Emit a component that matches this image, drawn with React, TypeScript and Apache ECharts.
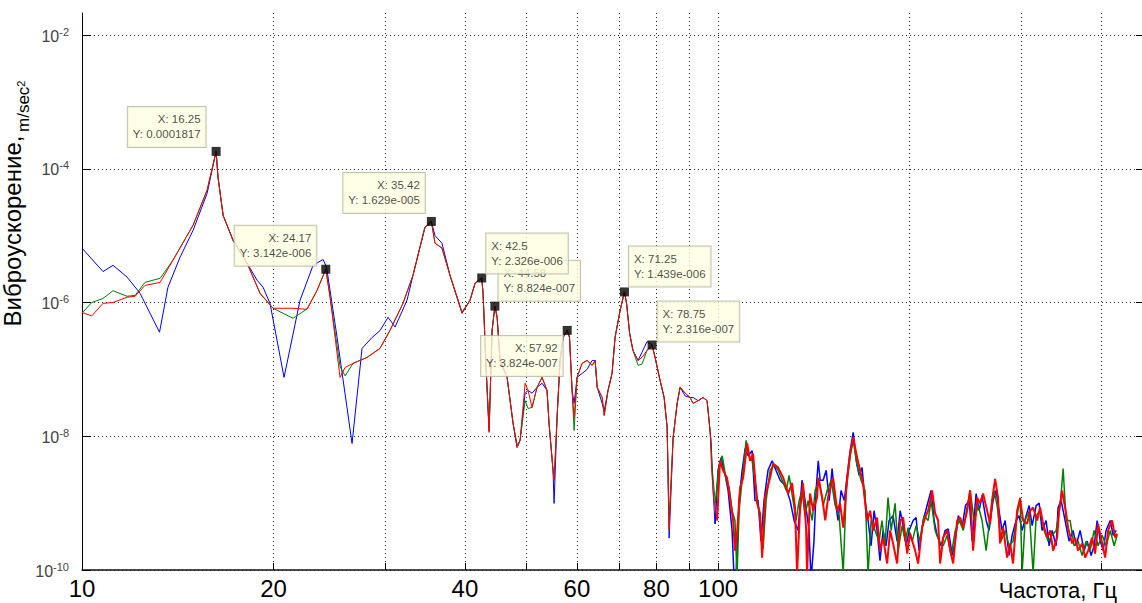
import React, { useEffect, useRef } from "react";
import * as echarts from "echarts";

// ---- axes ----
const X_MIN_HZ = 10;
const X_MAX_HZ = 469;
const Y_MIN = 1e-10;
const Y_MAX = 0.02133;
const xTickHz = [10, 20, 30, 40, 50, 60, 70, 80, 90, 100, 200, 300, 400];
const xLabelHz = [10, 20, 40, 60, 80, 100];
const yTickExp = [-10, -8, -6, -4, -2];

// ---- series data: [frequency Hz, acceleration m/sec^2] ----
const blueLow = [
  [10.0, 6.5e-6], [10.79, 2.9e-6], [11.19, 3.6e-6], [11.77, 2.4e-6], [12.34, 1.37e-6], [13.24, 3.6e-7],
  [13.65, 1.69e-6], [14.26, 4.75e-6], [14.95, 1.2e-5], [15.73, 4.3e-5], [16.25, 1.817e-4], [16.36, 7.5e-5],
  [16.67, 2.0e-5], [17.28, 8.5e-6], [18.17, 3.9e-6], [18.85, 2.15e-6], [19.26, 1.69e-6], [19.75, 9.7e-7],
  [20.78, 7.6e-8], [22.02, 1.08e-6], [23.08, 3.6e-6], [23.93, 4.4e-6], [24.17, 3.6e-6], [24.28, 3.0e-6],
  [25.18, 3.0e-7], [26.58, 7.8e-9], [27.56, 2.06e-7], [28.58, 3.0e-7], [29.41, 3.8e-7], [30.28, 6.0e-7],
  [31.06, 4.3e-7], [32.43, 1.08e-6], [33.14, 2.55e-6], [34.61, 1.34e-5], [35.42, 1.629e-5], [35.89, 1.0e-5],
  [36.81, 7.7e-6],
];
const greenLow = [
  [10.0, 6.9e-7], [10.36, 1.0e-6], [10.79, 1.15e-6], [11.19, 1.5e-6], [11.77, 1.24e-6], [12.12, 1.28e-6],
  [12.56, 2.0e-6], [13.27, 2.3e-6], [13.9, 4.3e-6], [14.95, 1.43e-5], [15.73, 4.8e-5], [16.25, 1.817e-4],
  [16.36, 7.5e-5], [16.67, 2.0e-5], [17.28, 8.5e-6], [18.17, 3.9e-6], [19.05, 1.37e-6], [19.97, 8.2e-7],
  [21.47, 5.8e-7], [22.58, 8.0e-7], [23.42, 1.52e-6], [24.17, 3.142e-6], [24.55, 1.2e-6], [25.45, 1.1e-7],
  [25.92, 8.0e-8], [26.68, 1.23e-7], [28.06, 1.51e-7], [29.41, 2.06e-7], [30.5, 3.84e-7], [31.96, 9.7e-7],
  [33.14, 2.55e-6], [34.61, 1.34e-5], [35.42, 1.629e-5], [35.89, 7.7e-6], [36.81, 6.5e-6],
];
const redLow = [
  [10.0, 7.1e-7], [10.36, 6.3e-7], [10.79, 9.7e-7], [11.19, 1.0e-6], [11.77, 1.2e-6], [12.12, 1.24e-6],
  [12.56, 1.8e-6], [13.27, 2.0e-6], [13.9, 4.3e-6], [14.95, 1.43e-5], [15.73, 4.8e-5], [16.25, 1.817e-4],
  [16.36, 7.5e-5], [16.67, 2.0e-5], [17.28, 8.5e-6], [18.17, 3.9e-6], [19.05, 1.37e-6], [19.97, 8.2e-7],
  [21.47, 8.2e-7], [22.58, 7.9e-7], [23.42, 1.52e-6], [24.17, 3.142e-6], [24.55, 1.2e-6], [25.45, 7.6e-8],
  [25.92, 1.07e-7], [26.68, 1.23e-7], [28.06, 1.51e-7], [29.41, 2.06e-7], [30.5, 3.84e-7], [31.96, 9.7e-7],
  [33.14, 2.55e-6], [34.61, 1.34e-5], [35.42, 1.629e-5], [35.89, 7.7e-6], [36.81, 6.5e-6],
];

const blueMid = [
  [37.89, 2.55e-6], [39.58, 6.9e-7], [40.74, 1.08e-6], [41.49, 1.94e-6], [42.5, 2.326e-6], [42.71, 1.37e-6],
  [43.18, 1.07e-7], [43.65, 1.2e-8], [44.13, 3.84e-7], [44.58, 8.824e-7], [44.94, 6.0e-7], [45.42, 1.36e-7],
  [46.59, 7.6e-8], [47.61, 1.56e-8], [48.31, 6.8e-9], [48.84, 8.7e-9], [49.73, 4.4e-8], [50.27, 4.85e-8],
  [51.0, 4.4e-8], [51.93, 5.4e-8], [52.88, 6.2e-8], [53.84, 4.85e-8], [54.23, 1.56e-8], [55.02, 3.1e-9],
  [55.23, 9.9e-10], [55.83, 1.91e-8], [56.44, 1.36e-7], [57.06, 3.0e-7], [57.92, 3.824e-7], [58.4, 3.0e-7],
  [58.95, 4.85e-8], [59.38, 3.1e-8], [60.03, 7.6e-8], [61.13, 8.7e-8], [62.23, 1.0e-7], [63.39, 1.36e-7],
  [64.08, 1.36e-7], [64.55, 5.4e-8], [65.73, 3.1e-8], [66.22, 2.4e-8], [67.14, 4.85e-8], [68.13, 8.7e-8],
  [68.87, 3.0e-7], [70.14, 7.6e-7], [71.25, 1.439e-6], [71.8, 9.7e-7], [72.6, 3.46e-7], [73.48, 1.92e-7],
  [74.85, 1.36e-7], [75.93, 1.8e-7], [77.32, 2.6e-7], [78.75, 2.316e-7], [79.61, 1.51e-7], [81.07, 6.8e-8],
  [82.26, 3.8e-8], [83.16, 1.36e-8], [83.76, 3e-10], [84.99, 9.6e-9], [86.23, 3.1e-8], [87.17, 5.4e-8],
  [88.77, 4.0e-8], [90.36, 3.8e-8], [91.35, 3.8e-8], [93.02, 3.4e-8], [94.71, 3.8e-8], [96.1, 3.4e-8],
  [97.14, 1.2e-8], [97.5, 8.7e-9], [98.2, 1.55e-9], [98.9, 4.9e-10],
];
const greenMid = [
  [37.89, 2.55e-6], [39.58, 7.2e-7], [40.74, 1.08e-6], [41.49, 1.94e-6], [42.5, 2.326e-6], [42.71, 1.37e-6],
  [43.18, 1.07e-7], [43.65, 1.3e-8], [44.13, 3.84e-7], [44.58, 8.824e-7], [44.94, 6.0e-7], [45.42, 1.36e-7],
  [46.59, 7.6e-8], [47.61, 1.56e-8], [48.31, 7.5e-9], [48.84, 8.7e-9], [49.73, 3.4e-8], [50.27, 2.6e-8],
  [51.0, 2.7e-8], [51.93, 5.4e-8], [52.88, 7.6e-8], [53.84, 4.85e-8], [54.23, 1.56e-8], [55.02, 3.1e-9],
  [55.23, 2.2e-9], [55.83, 1.91e-8], [56.44, 1.36e-7], [57.06, 3.0e-7], [57.92, 3.824e-7], [58.4, 3.0e-7],
  [58.95, 4.85e-8], [59.38, 1.22e-8], [60.03, 7.6e-8], [61.13, 1.23e-7], [62.23, 1.36e-7], [63.39, 1.15e-7],
  [64.08, 1.36e-7], [64.55, 5.4e-8], [65.73, 3.8e-8], [66.22, 2.05e-8], [67.14, 4.85e-8], [68.13, 8.7e-8],
  [68.87, 3.0e-7], [70.14, 7.6e-7], [71.25, 1.439e-6], [71.8, 9.7e-7], [72.6, 3.46e-7], [73.48, 1.92e-7],
  [74.85, 1.15e-7], [75.93, 1.2e-7], [77.32, 1.92e-7], [78.75, 2.316e-7], [79.61, 1.51e-7], [81.07, 6.8e-8],
  [82.26, 3.8e-8], [83.16, 1.36e-8], [83.76, 6e-10], [84.99, 9.6e-9], [86.23, 3.1e-8], [87.17, 5.4e-8],
  [88.77, 4.4e-8], [90.36, 3.8e-8], [91.35, 3.1e-8], [93.02, 3.4e-8], [94.71, 3.8e-8], [96.1, 3.4e-8],
  [97.14, 1.2e-8], [98.0, 3.0e-9], [99.0, 1.0e-9],
];
const redMid = [
  [37.89, 2.55e-6], [39.58, 6.9e-7], [40.74, 1.08e-6], [41.49, 1.94e-6], [42.5, 2.326e-6], [42.71, 1.37e-6],
  [43.18, 1.07e-7], [43.65, 1.14e-8], [44.13, 3.84e-7], [44.58, 8.824e-7], [44.94, 6.0e-7], [45.42, 1.36e-7],
  [46.59, 7.6e-8], [47.61, 1.56e-8], [48.31, 6.8e-9], [48.84, 8.7e-9], [49.73, 6.2e-8], [50.27, 4.85e-8],
  [51.0, 2.7e-8], [51.93, 5.4e-8], [52.88, 7.6e-8], [53.84, 4.85e-8], [54.23, 1.56e-8], [55.02, 3.1e-9],
  [55.23, 2.2e-9], [55.83, 1.91e-8], [56.44, 1.36e-7], [57.06, 3.0e-7], [57.92, 3.824e-7], [58.4, 3.0e-7],
  [58.95, 4.85e-8], [59.38, 1.91e-8], [60.03, 7.6e-8], [61.13, 1.23e-7], [62.23, 1.36e-7], [63.39, 1.15e-7],
  [64.08, 1.36e-7], [64.55, 5.4e-8], [65.73, 3.8e-8], [66.22, 2.05e-8], [67.14, 4.85e-8], [68.13, 8.7e-8],
  [68.87, 3.0e-7], [70.14, 7.6e-7], [71.25, 1.439e-6], [71.8, 9.7e-7], [72.6, 3.46e-7], [73.48, 1.92e-7],
  [74.85, 1.36e-7], [75.93, 1.51e-7], [77.32, 1.92e-7], [78.75, 2.316e-7], [79.61, 1.51e-7], [81.07, 6.8e-8],
  [82.26, 3.8e-8], [83.16, 1.36e-8], [83.76, 4e-10], [84.99, 9.6e-9], [86.23, 3.1e-8], [87.17, 5.4e-8],
  [88.77, 4.4e-8], [90.36, 3.8e-8], [91.35, 3.1e-8], [93.02, 3.4e-8], [94.71, 3.8e-8], [96.1, 3.4e-8],
  [97.14, 1.2e-8], [97.7, 3.1e-9], [98.4, 1.21e-9], [99.64, 5.5e-10],
];

const blueHigh = [
  [100.0, 3.1e-9], [101.1, 4.8e-9], [102.6, 2.6e-9], [103.7, 1.55e-9], [105.2, 3.9e-10], [106.0, 7e-11],
  [106.7, 8e-11], [107.9, 1.09e-9], [109.1, 3.1e-9], [110.3, 6.6e-9], [111.5, 5.1e-9], [113.1, 6.1e-9],
  [114.3, 1.09e-9], [115.6, 1.09e-9], [116.8, 2.7e-10], [118.1, 1.09e-9], [119.8, 3.1e-9], [121.6, 4.3e-9],
  [123.3, 3.1e-9], [125.2, 2.2e-9], [127.5, 1.83e-9], [129.8, 1.09e-9], [131.7, 5.5e-10], [133.6, 3.9e-10],
  [135.5, 2.2e-9], [137.0, 1.09e-9], [139.0, 3.9e-10], [140.0, 7e-11], [141.5, 2.7e-10], [142.6, 1.55e-9],
  [143.7, 4.3e-9], [144.7, 2.2e-9], [146.3, 2.2e-9], [147.9, 3.1e-9], [149.5, 1.09e-9], [151.1, 3.3e-9],
  [152.8, 1.09e-9], [154.4, 5.5e-10], [156.1, 1.55e-9], [157.9, 1.09e-9], [159.6, 2.6e-9], [161.3, 6.1e-9],
  [163.1, 1.14e-8], [164.9, 4.3e-9], [166.6, 2.6e-9], [168.4, 3.4e-9], [170.2, 1.09e-9], [172.1, 5.5e-10],
  [174.0, 2.3e-10], [175.9, 7.7e-10], [177.8, 3.9e-10], [179.7, 1.38e-10], [181.7, 3.9e-10], [183.7, 2.3e-10],
  [185.7, 5.5e-10], [188.4, 6.5e-10], [191.2, 2.7e-10], [193.3, 7.7e-10], [195.4, 4.6e-10], [197.6, 2.3e-10],
  [199.7, 3.9e-10], [202.6, 5.5e-10], [204.8, 6.1e-10], [207.0, 1.95e-10], [210.1, 5.5e-10], [213.1, 9.2e-10],
  [216.2, 1.55e-9], [218.6, 5.5e-10], [221.0, 3.3e-10], [224.2, 2.3e-10], [227.5, 3.9e-10], [230.1, 4.1e-10],
  [233.4, 1.65e-10], [236.0, 2.7e-10], [238.6, 6.5e-10], [242.1, 4.6e-10], [244.9, 9.2e-10], [248.2, 1.09e-9],
  [250.9, 2.7e-10], [254.5, 1.39e-9], [257.3, 7.7e-10], [260.0, 1.3e-9], [263.9, 5.5e-10], [266.7, 3.9e-10],
  [270.6, 1.09e-9], [273.6, 1.55e-9], [276.5, 7.7e-10], [279.5, 3.9e-10], [282.7, 5.5e-10], [286.7, 1.65e-10],
  [289.9, 3.3e-10], [294.1, 5.5e-10], [297.3, 6.5e-10], [300.6, 3.9e-10], [305.0, 6.5e-10], [308.4, 9.2e-10],
  [311.7, 4.6e-10], [316.3, 9.2e-10], [319.7, 1.0e-9], [323.1, 3.9e-10], [327.9, 5.5e-10], [331.5, 2.3e-10],
  [335.1, 3.9e-10], [340.0, 2.3e-10], [342.4, 8.6e-10], [346.2, 1.09e-9], [351.2, 5.5e-10], [356.3, 2.7e-10],
  [361.5, 3.9e-10], [365.5, 2.3e-10], [370.8, 3.9e-10], [376.3, 1.95e-10], [380.4, 2.7e-10], [385.9, 1.65e-10],
  [390.1, 2.3e-10], [394.4, 5.5e-10], [398.9, 2.7e-10], [403.1, 1.95e-10], [407.4, 3.9e-10], [413.5, 5.5e-10],
  [418.0, 3.3e-10], [422.6, 3.9e-10],
];
const greenHigh = [
  [100.4, 3.7e-9], [101.5, 5.1e-9], [103.0, 2.2e-9], [104.1, 1.71e-9], [105.2, 7.7e-10], [106.3, 5.5e-10],
  [107.1, 8e-11], [107.9, 7.7e-10], [109.1, 2.2e-9], [110.7, 8.7e-9], [111.9, 5.1e-9], [113.1, 4.3e-9],
  [114.8, 1.55e-9], [116.4, 5.5e-10], [117.7, 2.1e-10], [119.0, 1.09e-9], [120.7, 3.1e-9], [122.5, 3.7e-9],
  [124.3, 3.1e-9], [126.1, 2.2e-9], [128.0, 1.55e-9], [129.3, 2.6e-9], [131.2, 1.09e-9], [132.6, 5.5e-10],
  [134.1, 1.09e-9], [135.5, 1.55e-9], [137.0, 6.5e-10], [138.5, 1.09e-9], [140.6, 5.5e-10], [142.1, 1.55e-9],
  [144.2, 2.2e-9], [146.3, 9.2e-10], [148.4, 1.55e-9], [150.6, 2.2e-9], [152.8, 9.2e-10], [155.0, 6.5e-10],
  [157.3, 9e-11], [159.0, 1.55e-9], [161.3, 5.1e-9], [163.1, 8.7e-9], [165.4, 3.7e-9], [167.8, 2.2e-9],
  [170.2, 1.55e-9], [172.1, 9e-11], [174.0, 5.5e-10], [176.5, 3.9e-10], [179.1, 2.7e-10], [181.0, 5.5e-10],
  [183.0, 2.3e-10], [185.0, 1.21e-9], [187.1, 3.9e-10], [189.8, 9.9e-10], [191.9, 1.95e-10], [194.7, 4.6e-10],
  [196.8, 2.7e-10], [199.0, 4.3e-10], [202.0, 2.7e-10], [204.8, 4.6e-10], [207.7, 2.7e-10], [210.8, 6.5e-10],
  [213.9, 5.5e-10], [216.2, 1.09e-9], [219.4, 3.9e-10], [222.6, 2.7e-10], [225.9, 2.3e-10], [229.2, 3.3e-10],
  [232.5, 1.65e-10], [236.0, 3.9e-10], [239.4, 5.5e-10], [243.0, 3.9e-10], [246.6, 9.2e-10], [249.0, 1.55e-9],
  [252.7, 5.5e-10], [256.4, 9.2e-10], [260.0, 5.5e-10], [263.9, 1.95e-10], [267.7, 6.5e-10], [271.6, 1.55e-9],
  [274.6, 9.2e-10], [278.5, 2.7e-10], [282.7, 3.9e-10], [286.7, 2.3e-10], [290.9, 2.7e-10], [295.2, 6.5e-10],
  [298.4, 1.21e-9], [300.6, 9e-11], [303.9, 5.5e-10], [308.4, 7.7e-10], [312.8, 9e-11], [316.3, 6.5e-10],
  [320.8, 7.7e-10], [325.5, 3.9e-10], [330.3, 2.7e-10], [335.1, 3.3e-10], [340.0, 3.9e-10], [345.0, 9.2e-10],
  [348.7, 3.3e-9], [352.5, 5.5e-10], [357.6, 5.5e-10], [362.8, 2.3e-10], [368.1, 2.7e-10], [373.5, 1.65e-10],
  [379.0, 2.7e-10], [384.5, 1.95e-10], [390.1, 3.9e-10], [395.8, 2.3e-10], [401.6, 3.3e-10], [407.4, 2.3e-10],
  [413.5, 3.9e-10], [419.5, 2.3e-10], [424.0, 3.3e-10],
];
const redHigh = [
  [100.7, 4.3e-9], [101.8, 3.1e-9], [103.3, 2.4e-9], [104.4, 1.21e-9], [105.6, 5.5e-10], [106.3, 1.95e-10],
  [107.1, 3.5e-10], [108.3, 1.71e-9], [109.5, 2.4e-9], [111.1, 7.8e-9], [112.3, 4.3e-9], [113.5, 5.5e-9],
  [115.2, 9.9e-10], [116.4, 7.0e-10], [117.3, 1.53e-10], [118.5, 1.21e-9], [120.7, 2.4e-9], [122.0, 3.9e-9],
  [124.3, 3.4e-9], [126.6, 2.4e-9], [128.9, 1.39e-9], [130.7, 2.0e-9], [132.1, 8.6e-10], [133.1, 9e-11],
  [134.5, 7.7e-10], [136.0, 2.0e-9], [137.5, 4.3e-10], [138.0, 9e-11], [139.5, 1.39e-9], [141.1, 7.7e-10],
  [143.1, 1.21e-9], [143.7, 2.4e-9], [145.8, 1.21e-9], [147.4, 5.5e-10], [148.9, 1.21e-9], [151.6, 2.4e-9],
  [153.9, 7.7e-10], [155.5, 9.9e-10], [157.3, 4.3e-10], [159.6, 2.4e-9], [161.3, 5.5e-9], [163.1, 9.6e-9],
  [165.4, 4.8e-9], [167.2, 3.1e-9], [169.0, 2.0e-9], [171.5, 5.5e-10], [173.4, 7.7e-10], [175.3, 3.9e-10],
  [177.8, 6.1e-10], [179.7, 1.95e-10], [181.7, 3.05e-10], [184.4, 1.25e-10], [186.4, 3.9e-10], [188.4, 2.5e-10],
  [191.2, 1.25e-10], [193.3, 5.5e-10], [195.4, 6.1e-10], [198.3, 1.76e-10], [200.4, 3.5e-10], [204.1, 1.95e-10],
  [206.3, 1.25e-10], [209.3, 4.3e-10], [211.6, 6.1e-10], [213.9, 7.7e-10], [217.0, 1.55e-9], [219.4, 7.0e-10],
  [221.8, 5.5e-10], [223.4, 1.25e-10], [225.9, 3.05e-10], [229.2, 3.9e-10], [231.7, 1.95e-10], [234.2, 1.25e-10],
  [237.6, 5.5e-10], [240.2, 6.1e-10], [242.8, 4.3e-10], [246.4, 7.7e-10], [249.0, 1.55e-9], [251.7, 1.95e-10],
  [255.4, 1.21e-9], [258.2, 9.9e-10], [261.0, 1.39e-9], [264.8, 7.7e-10], [267.7, 4.9e-10], [269.6, 1.09e-9],
  [272.6, 2.3e-9], [275.5, 1.21e-9], [277.5, 2.5e-10], [280.6, 4.3e-10], [284.7, 1.53e-10], [287.8, 2.5e-10],
  [290.9, 1.25e-10], [295.2, 7.7e-10], [298.4, 1.17e-9], [301.7, 5.5e-10], [306.1, 4.9e-10], [309.5, 7.7e-10],
  [312.8, 8.6e-10], [317.4, 5.5e-10], [320.8, 8.6e-10], [324.3, 4.9e-10], [329.1, 3.05e-10], [332.7, 3.9e-10],
  [336.3, 1.95e-10], [341.2, 3.05e-10], [343.7, 7.7e-10], [347.4, 1.55e-9], [352.5, 7.0e-10], [355.0, 4.3e-10],
  [360.2, 2.5e-10], [364.2, 3.05e-10], [368.1, 1.95e-10], [373.5, 2.5e-10], [377.6, 1.53e-10], [381.7, 1.95e-10],
  [387.3, 3.05e-10], [391.5, 1.76e-10], [395.8, 4.9e-10], [401.6, 2.5e-10], [406.0, 1.53e-10], [410.4, 3.9e-10],
  [416.4, 5.5e-10], [421.0, 3.05e-10], [424.0, 3.5e-10],
];

// ---- data tips ----
const tipX = [16.25, 24.17, 35.42, 44.58, 42.5, 57.92, 71.25, 78.75];
const tipY = [1.817e-4, 3.142e-6, 1.629e-5, 8.824e-7, 2.326e-6, 3.824e-7, 1.439e-6, 2.316e-7];
const tipXText = ["16.25", "24.17", "35.42", "44.58", "42.5", "57.92", "71.25", "78.75"];
const tipYText = ["0.0001817", "3.142e-006", "1.629e-005", "8.824e-007", "2.326e-006", "3.824e-007", "1.439e-006", "2.316e-007"];
// box placement relative to the marker (layout only)
const tipLayout = [
  { pos: [-6, 0], align: "right", va: "bottom" },
  { pos: [-5, 1], align: "right", va: "bottom" },
  { pos: [-2, -4], align: "right", va: "bottom" },
  { pos: [8, -1], align: "left", va: "bottom" },
  { pos: [9, 0], align: "left", va: "bottom" },
  { pos: [0, 10], align: "right", va: "top" },
  { pos: [9, -1], align: "left", va: "bottom" },
  { pos: [10, 1], align: "left", va: "bottom" },
];

const FONT = "'Liberation Sans', Arial, Helvetica, sans-serif";

const toPts = (arr: number[][]) => arr.map(([f, v]) => [Math.log10(f), Math.log10(v)]);

export default function App() {
  const ref = useRef<HTMLDivElement>(null);
  useEffect(() => {
    if (!ref.current) return;
    const chart = echarts.init(ref.current, null, { renderer: "svg" });
    const lineSeries = (name: string, color: string, pts: number[][], z: number, width: number) => ({
      type: "line",
      name,
      data: toPts(pts),
      showSymbol: false,
      symbol: "none",
      silent: true,
      z,
      lineStyle: { color, width },
      emphasis: { disabled: true },
    });
    const yTickCommon = {
      show: true,
      inside: true,
      length: 9,
      customValues: yTickExp,
      lineStyle: { color: "#000", width: 1 },
    };
    chart.setOption({
      animation: false,
      backgroundColor: "#fff",
      grid: { left: 82, top: 13, right: -3, bottom: 33, containLabel: false, outerBoundsMode: "none" },
      xAxis: {
        type: "value",
        min: Math.log10(X_MIN_HZ),
        max: Math.log10(X_MAX_HZ),
        axisLine: { show: true, onZero: false, lineStyle: { color: "#111", width: 1.5 } },
        axisTick: {
          show: true,
          inside: true,
          length: 7,
          customValues: xTickHz.map((v) => Math.log10(v)),
          lineStyle: { color: "#000" },
        },
        axisLabel: {
          show: true,
          customValues: xLabelHz.map((v) => Math.log10(v)),
          formatter: (v: number) => String(Math.round(Math.pow(10, v))),
          fontSize: 24,
          fontFamily: FONT,
          color: "#000",
          margin: 6,
        },
        splitLine: { show: true, lineStyle: { color: "#000", width: 1, type: [1, 3], opacity: 0.85 } },
      },
      yAxis: [
        {
          type: "value",
          min: Math.log10(Y_MIN),
          max: Math.log10(Y_MAX),
          position: "left",
          axisLine: { show: true, onZero: false, lineStyle: { color: "#000", width: 1 } },
          axisTick: yTickCommon,
          axisLabel: {
            show: true,
            customValues: yTickExp,
            margin: 13,
            formatter: (v: number) => `{b|10}{s|${Math.round(v)}}`,
            rich: {
              b: { fontSize: 16, fontFamily: FONT, color: "#444", lineHeight: 18, verticalAlign: "bottom" },
              s: { fontSize: 11, fontFamily: FONT, color: "#444", lineHeight: 6, verticalAlign: "top" },
            },
          },
          splitLine: { show: true, lineStyle: { color: "#000", width: 1, type: [1, 3], opacity: 0.85 } },
        },
        {
          type: "value",
          min: Math.log10(Y_MIN),
          max: Math.log10(Y_MAX),
          position: "right",
          axisLine: { show: false },
          axisTick: yTickCommon,
          axisLabel: { show: false },
          splitLine: { show: false },
        },
      ],
      series: [
        lineSeries("blue", "#0000ff", [...blueLow, ...blueMid], 2, 1),
        lineSeries("green", "#008000", [...greenLow, ...greenMid], 3, 1),
        lineSeries("red", "#ff0000", [...redLow, ...redMid], 4, 1),
        lineSeries("blue", "#0000ff", [...blueMid.slice(-1), ...blueHigh], 2, 1.5),
        lineSeries("green", "#008000", [...greenMid.slice(-1), ...greenHigh], 3, 1.5),
        lineSeries("red", "#ff0000", [...redMid.slice(-1), ...redHigh], 4, 2),
        {
          type: "scatter",
          z: 10,
          symbol: "rect",
          symbolSize: 9,
          silent: true,
          itemStyle: { color: "#000" },
          data: tipX.map((x, i) => ({
            value: [Math.log10(x), Math.log10(tipY[i])],
            label: {
              show: true,
              position: tipLayout[i].pos,
              align: tipLayout[i].align,
              verticalAlign: tipLayout[i].va,
              formatter: `X: ${tipXText[i]}\nY: ${tipYText[i]}`,
              fontSize: 11.5,
              lineHeight: 15,
              fontFamily: FONT,
              color: "#1a1a1a",
              backgroundColor: "#ffffe1",
              borderColor: "#b4b4a0",
              borderWidth: 1,
              padding: [5, 5, 5, 5],
            },
          })),
        },
      ],
      graphic: [
        {
          type: "text",
          x: 12,
          y: 231,
          rotation: Math.PI / 2,
          style: {
            text: "Виброускорение,",
            fontSize: 24,
            fontFamily: FONT,
            fill: "#000",
            align: "center",
            verticalAlign: "middle",
          },
        },
        {
          type: "text",
          x: 23.5,
          y: 132,
          rotation: Math.PI / 2,
          style: {
            text: "{b|m/sec}{c|2}",
            fontSize: 17,
            fontFamily: FONT,
            fill: "#000",
            align: "left",
            verticalAlign: "middle",
            rich: {
              b: { fontSize: 17, fontFamily: FONT, lineHeight: 17, verticalAlign: "middle", fill: "#000" },
              c: { fontSize: 11, fontFamily: FONT, lineHeight: 11, verticalAlign: "top", fill: "#000" },
            },
          },
        },
        {
          type: "text",
          x: 1117,
          y: 590,
          style: {
            text: "Частота, Гц",
            fontSize: 22,
            fontFamily: FONT,
            fill: "#000",
            align: "right",
            verticalAlign: "middle",
          },
        },
      ],
    });
    return () => chart.dispose();
  }, []);
  return (
    <div
      ref={ref}
      style={{ position: "fixed", left: 0, top: 0, width: 1142, height: 603, background: "#fff" }}
    />
  );
}
